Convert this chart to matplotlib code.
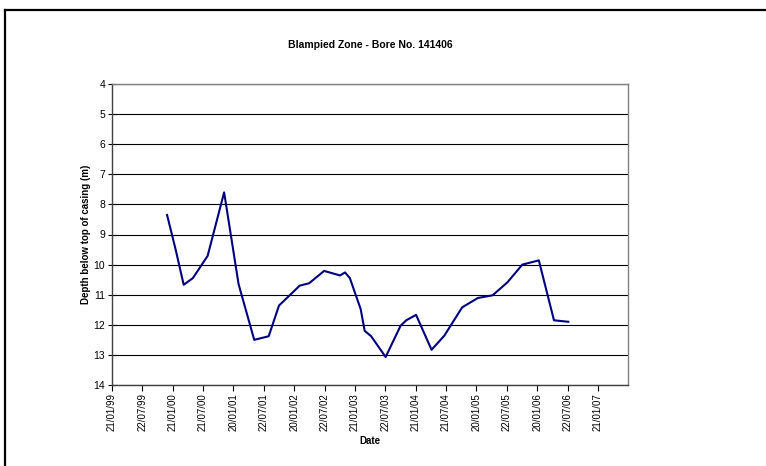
import matplotlib
matplotlib.use("Agg")
import matplotlib.pyplot as plt
import pandas as pd

# Water level readings (depth below top of casing, m)
dates = [
    "1999-12-18", "2000-02-08", "2000-03-27", "2000-05-21", "2000-08-18",
    "2000-11-25", "2001-02-20", "2001-05-25", "2001-08-20", "2001-10-21",
    "2001-12-28", "2002-02-22", "2002-04-20", "2002-07-19", "2002-10-23",
    "2002-11-22", "2002-12-21", "2003-02-24", "2003-03-20", "2003-04-28",
    "2003-07-24", "2003-10-22", "2003-11-25", "2004-01-23", "2004-04-25",
    "2004-07-11", "2004-10-26", "2005-01-28", "2005-04-27", "2005-07-25",
    "2005-10-23", "2006-01-30", "2006-05-01", "2006-07-26",
]
depth = [
    8.35, 9.51, 10.67, 10.45, 9.71,
    7.60, 10.65, 12.50, 12.38, 11.36,
    11.00, 10.70, 10.62, 10.21, 10.36,
    10.26, 10.45, 11.48, 12.20, 12.38,
    13.07, 12.03, 11.85, 11.67, 12.83,
    12.36, 11.42, 11.11, 11.02, 10.59,
    10.00, 9.86, 11.85, 11.90,
]

# Excel-style tick labels on the date axis
tick_labels = [
    "21/01/99", "22/07/99", "21/01/00", "21/07/00", "20/01/01", "22/07/01",
    "20/01/02", "22/07/02", "21/01/03", "22/07/03", "21/01/04", "21/07/04",
    "20/01/05", "22/07/05", "20/01/06", "22/07/06", "21/01/07",
]
y_ticks = [4, 5, 6, 7, 8, 9, 10, 11, 12, 13, 14]

plt.rcParams["font.family"] = ["Liberation Sans", "DejaVu Sans"]

x = pd.to_datetime(dates)
tick_pos = pd.to_datetime(tick_labels, format="%d/%m/%y")

fig = plt.figure(figsize=(7.66, 4.66), dpi=100)
ax = fig.add_axes([112 / 766, 1 - 385 / 466, (628 - 112) / 766, (385 - 84) / 466])

ax.plot(x, depth, color="#000080", lw=1.5, zorder=3)

ax.set_ylim(14, 4)
ax.set_yticks(y_ticks)
ax.set_xlim(pd.Timestamp("1999-01-21"), pd.Timestamp("2007-07-20"))
ax.set_xticks(tick_pos)
ax.set_xticklabels(tick_labels, rotation=90, fontsize=7)
ax.tick_params(axis="y", labelsize=7.5, direction="inout", length=6, width=0.8, pad=2)
ax.tick_params(axis="x", direction="out", length=4, width=0.8, pad=2)

ax.grid(axis="y", color="black", lw=0.8)
ax.set_axisbelow(True)

for side in ["top", "right"]:
    ax.spines[side].set_color("#808080")
    ax.spines[side].set_linewidth(1)
for side in ["left", "bottom"]:
    ax.spines[side].set_color("#404040")
    ax.spines[side].set_linewidth(1)

ax.set_title("Blampied Zone - Bore No. 141406", fontsize=7.5, fontweight="bold", pad=26)
ax.set_ylabel("Depth below top of casing (m)", fontsize=7, fontweight="bold", labelpad=2)
ax.set_xlabel("Date", fontsize=7, fontweight="bold", labelpad=3)

# partial chart border (left and top edges visible)
fig.add_artist(plt.Line2D([5 / 766, 5 / 766], [0, 1 - 10 / 466], color="black", lw=1.6))
fig.add_artist(plt.Line2D([5 / 766, 1], [1 - 10 / 466, 1 - 10 / 466], color="black", lw=1.6))

fig.savefig("out.png", dpi=100)
